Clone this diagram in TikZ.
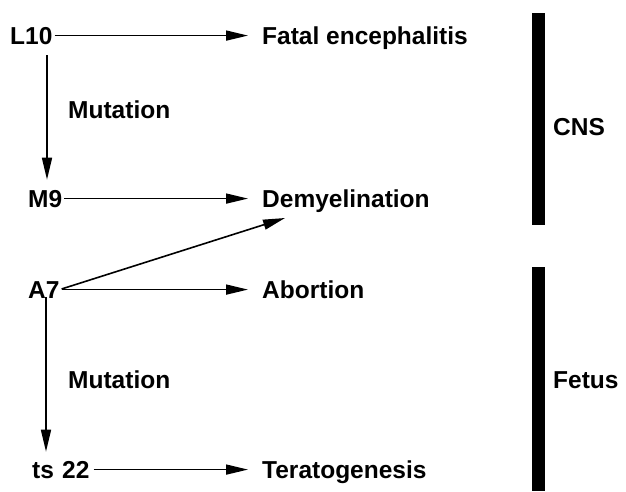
\documentclass[tikz,border=0pt]{standalone}
\usepackage{fontspec}
\setmainfont{Liberation Sans}
\usetikzlibrary{arrows.meta,positioning}

\begin{document}
\begin{tikzpicture}[x=1pt,y=-1pt,
    every node/.style={font=\bfseries\fontsize{24.5}{29}\selectfont,inner sep=0pt},
    lbl/.style={anchor=base west},
    arr/.style={-{Triangle[length=22pt,width=10pt]},line width=1.6pt},
    bar/.style={line width=13pt}]
  \useasboundingbox (0,0) rectangle (626,491);
  % strains
  \node[lbl] (l10)  at (10,44)  {L10};
  \node[lbl] (m9)   at (28,207) {M9};
  \node[lbl] (a7)   at (28,298) {A7};
  \node[lbl] (ts22) at (32,478) {ts\,\,22};
  % effects
  \node[lbl] (fatal) at (262,44)  {Fatal encephalitis};
  \node[lbl] (demy)  at (262,207) {Demyelination};
  \node[lbl] (abort) at (262,298) {Abortion};
  \node[lbl] (terat) at (262,478) {Teratogenesis};
  \node[lbl] (mut1) at (68,118) {Mutation};
  \node[lbl] (mut2) at (68,388) {Mutation};
  % strain -> effect
  \draw[arr,shorten <=2pt] (l10.east) -- ([xshift=-14pt]l10.east -| fatal.west);
  \draw[arr,shorten <=2pt] (m9.east) -- ([xshift=-14pt]m9.east -| demy.west);
  \draw[arr,shorten <=2pt] (a7.east) -- ([xshift=-14pt]a7.east -| abort.west);
  \draw[arr,shorten <=2pt] (a7.east) -- ([shift={(23pt,-11pt)}]demy.base west);
  \draw[arr,shorten <=4pt] (ts22.east) -- ([xshift=-14pt]ts22.east -| terat.west);
  % mutations
  \coordinate (vx1) at (47,0);
  \coordinate (vx2) at (46,0);
  \draw[arr] ([yshift=-11pt]l10.south -| vx1) -- ([yshift=10pt]m9.north -| vx1);
  \draw[arr] ([yshift=1pt]a7.south -| vx2) -- ([yshift=9pt]ts22.north -| vx2);
  % organ bars
  \draw[bar] (538.5,13) -- (538.5,225);
  \draw[bar] (538.5,267) -- (538.5,491);
  \node[lbl] (cns)   at (553,135) {CNS};
  \node[lbl] (fetus) at (553,388) {Fetus};
\end{tikzpicture}
\end{document}
